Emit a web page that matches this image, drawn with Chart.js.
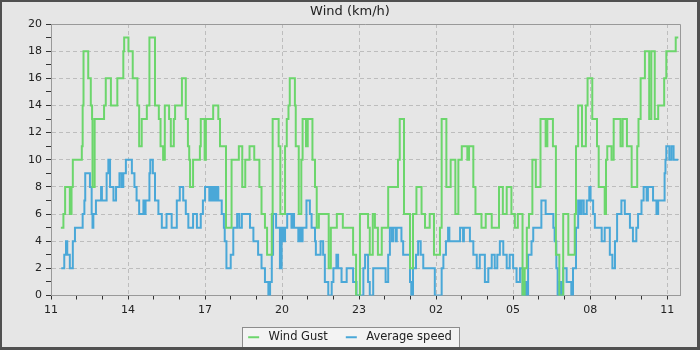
<!DOCTYPE html>
<html>
<head>
<meta charset="utf-8">
<script src="https://cdn.jsdelivr.net/npm/chart.js@4.4.0/dist/chart.umd.min.js"></script>
<style>
  html, body { margin: 0; padding: 0; background: #e6e6e6; }
  canvas { display: block; }
</style>
</head>
<body>
<canvas id="windChart" width="700" height="350"></canvas>
<script>
// step data: minutes after 11:00 where the reading changes, and the new value
var gustMinutes = [23, 29, 33, 44, 48, 51, 72, 74, 76, 87, 93, 96, 97, 102, 124, 128, 140, 155, 169, 171, 181, 191, 202, 206, 212, 224, 230, 243, 252, 256, 262, 266, 276, 280, 287, 290, 306, 315, 320, 323, 325, 332, 348, 350, 359, 362, 379, 391, 395, 409, 422, 439, 447, 454, 464, 475, 487, 492, 500, 505, 516, 518, 532, 536, 547, 551, 555, 558, 570, 572, 579, 585, 588, 596, 600, 611, 617, 621, 626, 649, 654, 668, 682, 706, 713, 722, 741, 745, 752, 757, 764, 773, 788, 811, 815, 825, 839, 846, 854, 866, 874, 885, 895, 909, 913, 924, 934, 945, 952, 960, 973, 977, 987, 992, 1006, 1016, 1030, 1047, 1056, 1065, 1076, 1084, 1091, 1102, 1107, 1112, 1117, 1125, 1133, 1144, 1156, 1160, 1173, 1180, 1188, 1197, 1209, 1224, 1227, 1232, 1241, 1250, 1254, 1265, 1276, 1280, 1294, 1297, 1300, 1310, 1315, 1331, 1336, 1346, 1357, 1370, 1373, 1378, 1388, 1398, 1403, 1411, 1419, 1433, 1438, 1460, 1466];
var gustValues = [5, 6, 8, 6, 8, 10, 11, 14, 18, 16, 14, 13, 8, 13, 14, 16, 14, 16, 18, 19, 18, 16, 14, 11, 13, 14, 19, 14, 13, 11, 10, 14, 13, 11, 13, 14, 16, 13, 11, 10, 8, 10, 11, 13, 10, 13, 14, 13, 11, 5, 10, 11, 8, 10, 11, 10, 8, 6, 5, 3, 6, 13, 11, 6, 11, 13, 14, 16, 14, 11, 6, 10, 13, 11, 13, 10, 8, 5, 6, 2, 5, 6, 5, 3, 0, 6, 5, 3, 6, 5, 3, 5, 8, 10, 13, 6, 2, 6, 8, 6, 5, 6, 3, 5, 13, 8, 10, 6, 10, 11, 10, 11, 8, 6, 5, 6, 5, 8, 6, 8, 6, 5, 6, 0, 2, 5, 6, 10, 8, 13, 11, 13, 11, 3, 0, 6, 3, 6, 11, 14, 11, 14, 16, 13, 11, 8, 6, 10, 11, 10, 13, 11, 13, 11, 8, 11, 13, 16, 18, 13, 18, 13, 14, 16, 18, 19, 19];

var speedMinutes = [24, 31, 35, 38, 44, 51, 56, 74, 78, 80, 91, 95, 97, 99, 105, 117, 119, 130, 134, 138, 146, 152, 160, 165, 169, 175, 189, 195, 200, 206, 216, 218, 221, 230, 232, 238, 243, 251, 259, 270, 282, 294, 301, 309, 315, 321, 332, 341, 350, 355, 360, 370, 374, 377, 381, 385, 388, 391, 399, 404, 406, 410, 420, 426, 435, 440, 446, 465, 473, 484, 492, 500, 508, 512, 516, 519, 526, 535, 539, 543, 547, 552, 562, 564, 568, 578, 582, 585, 588, 597, 605, 609, 617, 619, 630, 636, 640, 648, 656, 660, 667, 671, 679, 691, 706, 714, 730, 734, 741, 745, 753, 782, 788, 792, 797, 800, 806, 808, 819, 823, 839, 842, 846, 853, 858, 864, 870, 897, 913, 917, 923, 928, 931, 956, 963, 965, 979, 987, 995, 1002, 1014, 1022, 1030, 1037, 1043, 1049, 1057, 1065, 1072, 1080, 1088, 1096, 1102, 1107, 1111, 1115, 1123, 1127, 1146, 1156, 1174, 1177, 1181, 1184, 1189, 1193, 1197, 1205, 1216, 1220, 1227, 1232, 1236, 1240, 1245, 1252, 1258, 1261, 1267, 1271, 1287, 1294, 1306, 1312, 1318, 1323, 1333, 1341, 1353, 1360, 1368, 1372, 1380, 1385, 1392, 1395, 1407, 1415, 1419, 1434, 1436, 1438, 1445, 1450, 1455, 1466];
var speedValues = [2, 3, 4, 3, 2, 4, 5, 6, 7, 9, 8, 6, 5, 6, 7, 8, 7, 9, 10, 8, 7, 8, 9, 8, 9, 10, 9, 8, 7, 6, 7, 6, 7, 9, 10, 9, 7, 6, 5, 6, 5, 7, 8, 7, 6, 5, 6, 5, 6, 7, 8, 7, 8, 7, 8, 7, 8, 7, 6, 5, 4, 2, 3, 5, 6, 5, 6, 5, 4, 3, 2, 1, 0, 1, 3, 6, 5, 2, 5, 4, 5, 6, 5, 6, 5, 4, 5, 4, 5, 7, 6, 5, 4, 3, 4, 3, 1, 0, 1, 2, 3, 2, 1, 2, 1, 0, 2, 3, 1, 0, 2, 1, 3, 5, 4, 5, 4, 5, 4, 3, 1, 0, 2, 3, 4, 3, 2, 0, 2, 3, 4, 5, 4, 5, 4, 5, 4, 3, 2, 3, 1, 2, 3, 2, 3, 4, 3, 2, 3, 2, 1, 2, 0, 1, 0, 3, 4, 5, 7, 6, 5, 4, 2, 0, 1, 0, 2, 1, 0, 2, 5, 7, 6, 7, 6, 7, 8, 7, 6, 5, 4, 5, 3, 2, 4, 6, 7, 6, 5, 4, 5, 6, 7, 8, 7, 8, 7, 6, 7, 9, 10, 11, 10, 11, 10, 10];

var hourLabels = ['11', '14', '17', '20', '23', '02', '05', '08', '11'];
var tickMinutes = [];
for (var m = 0; m <= 1440; m += 60) tickMinutes.push(m);

var font = { family: 'DejaVu Sans', size: 11 };

function toPoints(mins, vals) {
  return mins.map(function (t, i) { return { x: t, y: vals[i] }; });
}

var framePlugin = {
  id: 'frame',
  beforeDraw: function (chart) {
    var c = chart.ctx;
    c.save();
    c.fillStyle = '#e6e6e6';
    c.fillRect(0, 0, chart.width, chart.height);
    // box behind the legend
    var hb = chart.legend.legendHitBoxes;
    if (hb && hb.length) {
      var l = Math.round(hb[0].left - 6);
      var r = Math.round(hb[hb.length - 1].left + hb[hb.length - 1].width + 8);
      var t = Math.round(hb[0].top - 5);
      c.fillStyle = '#f3f3f3';
      c.fillRect(l, t, r - l, chart.height - t);
      c.strokeStyle = '#8c8c8c';
      c.lineWidth = 1;
      c.strokeRect(l + 0.5, t + 0.5, r - l - 1, chart.height - t + 5);
    }
    c.restore();
  },
  beforeDatasetsDraw: function (chart) {
    var c = chart.ctx, a = chart.chartArea;
    c.save();
    c.strokeStyle = '#999';
    c.lineWidth = 1;
    c.beginPath();
    c.moveTo(Math.round(a.left), Math.round(a.top) + 0.5);
    c.lineTo(Math.round(a.right) + 0.5, Math.round(a.top) + 0.5);
    c.lineTo(Math.round(a.right) + 0.5, Math.round(a.bottom));
    c.stroke();
    c.restore();
  },
  afterDraw: function (chart) {
    var c = chart.ctx, w = chart.width, h = chart.height;
    c.save();
    c.fillStyle = '#505050';
    c.fillRect(0, 0, w, 2);
    c.fillRect(0, 0, 2, h);
    c.fillRect(w - 3, 0, 3, h);
    c.fillRect(0, h - 3, w, 3);
    c.restore();
  }
};

var ctx = document.getElementById('windChart').getContext('2d');
var windChart = new Chart(ctx, {
  type: 'line',
  data: {
    datasets: [{
      label: 'Wind Gust',
      data: toPoints(gustMinutes, gustValues),
      borderColor: '#6cd66c',
      backgroundColor: '#6cd66c',
      borderWidth: 2,
      stepped: true,
      pointRadius: 0,
      fill: false
    }, {
      label: 'Average speed',
      data: toPoints(speedMinutes, speedValues),
      borderColor: '#4aa8d8',
      backgroundColor: '#4aa8d8',
      borderWidth: 2,
      stepped: true,
      pointRadius: 0,
      fill: false
    }]
  },
  options: {
    responsive: false,
    animation: false,
    events: [],
    layout: { padding: { left: 0, right: 0, top: 0, bottom: -3 } },
    plugins: {
      title: {
        display: true,
        text: 'Wind (km/h)',
        color: '#222',
        font: { family: 'DejaVu Sans', size: 13, weight: 'normal' },
        padding: { top: 4, bottom: 4.4 }
      },
      legend: {
        position: 'bottom',
        labels: {
          usePointStyle: true,
          pointStyle: 'line',
          pointStyleWidth: 11,
          padding: 18,
          color: '#222',
          font: { family: 'DejaVu Sans', size: 11.5 },
          generateLabels: function (chart) {
            var items = Chart.defaults.plugins.legend.labels.generateLabels(chart);
            items.forEach(function (it) { it.text = ' ' + it.text; });
            return items;
          }
        }
      },
      tooltip: { enabled: false }
    },
    scales: {
      x: {
        type: 'linear',
        min: 0,
        max: 1470,
        afterBuildTicks: function (s) {
          s.ticks = tickMinutes.map(function (v) { return { value: v }; });
        },
        afterFit: function (s) { s.height = 18; },
        ticks: {
          autoSkip: false,
          maxRotation: 0,
          padding: 4,
          color: '#222',
          font: font,
          callback: function (v) { return v % 180 === 0 ? hourLabels[v / 180] : ''; }
        },
        grid: {
          color: function (c) {
            return (c.tick && c.tick.value % 180 === 0 && c.tick.value > 0) ? '#bdbdbd' : 'transparent';
          },
          tickColor: '#333',
          tickLength: 4
        },
        border: { color: '#999', width: 1, dash: [4, 3] }
      },
      y: {
        min: 0,
        max: 20,
        afterFit: function (s) { s.width = 51; },
        ticks: {
          stepSize: 1,
          autoSkip: false,
          padding: 4,
          color: '#222',
          font: font,
          callback: function (v) { return v % 2 === 0 ? v : ''; }
        },
        grid: {
          color: function (c) {
            var v = c.tick && c.tick.value;
            return (v % 2 === 0 && v > 0 && v < 20) ? '#bdbdbd' : 'transparent';
          },
          tickColor: '#333',
          tickLength: 5
        },
        border: { color: '#999', width: 1, dash: [4, 3] }
      },
      // empty right-hand strip so the plot ends at the same place as the reference
      yRight: {
        position: 'right',
        min: 0,
        max: 20,
        afterFit: function (s) { s.width = 20; },
        ticks: { display: false },
        grid: { display: false },
        border: { display: false }
      }
    }
  },
  plugins: [framePlugin]
});
</script>
</body>
</html>
